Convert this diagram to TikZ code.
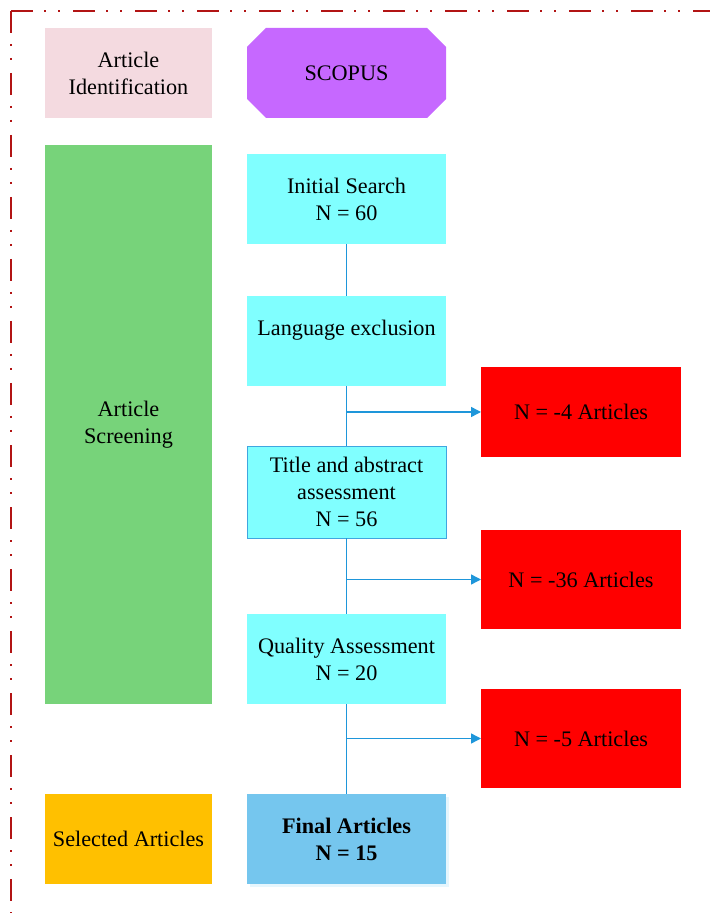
\documentclass[tikz,border=0pt]{standalone}
\usepackage{fontspec}
\setmainfont{Liberation Serif}
\usepackage{tikz}
\usetikzlibrary{arrows.meta, positioning, shadows}
\definecolor{framered}{RGB}{178, 20, 20}
\definecolor{identpink}{RGB}{244, 218, 224}
\definecolor{scopuspurple}{RGB}{198, 104, 255}
\definecolor{screengreen}{RGB}{119, 211, 122}
\definecolor{stepcyan}{RGB}{128, 255, 255}
\definecolor{exclred}{RGB}{255, 0, 0}
\definecolor{finalblue}{RGB}{117, 198, 238}
\definecolor{selectorange}{RGB}{255, 192, 0}
\definecolor{linkblue}{RGB}{30, 150, 218}
\definecolor{shadowblue}{RGB}{230, 246, 253}

\begin{document}
\begin{tikzpicture}[
    x=0.5pt, y=-0.5pt,
    font=\fontsize{11.1}{13.5}\selectfont,
    phasebox/.style={
      rectangle,
      inner sep=2pt,
      outer sep=0pt,
      minimum width=83.5pt,
      minimum height=45pt,
      align=center
    },
    stagebox/.style={
      rectangle,
      fill=stepcyan,
      inner sep=2pt,
      outer sep=0pt,
      minimum width=99.5pt,
      minimum height=45pt,
      align=center
    },
    exclbox/.style={
      rectangle,
      fill=exclred,
      inner sep=2pt,
      outer sep=0pt,
      minimum width=100pt,
      minimum height=49.5pt,
      align=center
    },
    link/.style={
      line width=0.7pt,
      draw=linkblue
    },
    arrow/.style={
      -{Triangle[length=5pt, width=5pt]},
      line width=0.7pt,
      draw=linkblue,
      fill=linkblue
    }
  ]

    \useasboundingbox (0,0) rectangle (709,913);

    % Frame
    \draw[framered, line width=1.25pt,
      dash pattern=on 11pt off 5.5pt on 1pt off 6pt on 1pt off 6.5pt]
      (11,11) -- (740,11);
    \draw[framered, line width=1.25pt,
      dash pattern=on 11pt off 5.5pt on 1pt off 6pt on 1pt off 6.5pt]
      (11,11) -- (11,940);

    % Left column
    \node[phasebox, fill=identpink] (ident) at (128.5,73) {Article\\Identification};
    \node[phasebox, fill=screengreen, minimum height=279.5pt] (screen) at (128.5,424.5) {Article\\Screening};
    \node[phasebox, fill=selectorange] (select) at (128.5,839) {Selected Articles};

    % Middle column
    \node[stagebox, fill=none,
      path picture={
        \fill[scopuspurple]
          ([xshift=9.5pt]path picture bounding box.north west) --
          ([xshift=-9.5pt]path picture bounding box.north east) --
          ([yshift=-9.5pt]path picture bounding box.north east) --
          ([yshift=9.5pt]path picture bounding box.south east) --
          ([xshift=-9.5pt]path picture bounding box.south east) --
          ([xshift=9.5pt]path picture bounding box.south west) --
          ([yshift=9.5pt]path picture bounding box.south west) --
          ([yshift=-9.5pt]path picture bounding box.north west) -- cycle;
      }, right=17.5pt of ident] (scopus) {SCOPUS};

    \node[stagebox, below=18pt of scopus] (init) {Initial Search\\N = 60};
    \node[stagebox, below=26pt of init] (lang) {Language exclusion\\\mbox{}};
    \node[stagebox, draw=linkblue!85, line width=0.5pt, minimum height=46pt, below=30pt of lang] (title)
      {Title and abstract\\assessment\\N = 56};
    \node[stagebox, below=38pt of title] (qual) {Quality Assessment\\N = 20};
    \node[stagebox, fill=finalblue, font=\fontsize{11.1}{13.5}\selectfont\bfseries,
      general shadow={fill=shadowblue, shadow xshift=1.5pt, shadow yshift=-1.5pt},
      below=45pt of qual] (final) {Final Articles\\N = 15};

    % Right column
    \node[exclbox, minimum height=45pt] (excl1) at (581,412) {N = -4 Articles};
    \node[exclbox] (excl2) at (581,579.5) {N = -36 Articles};
    \node[exclbox] (excl3) at (581,738.5) {N = -5 Articles};

    % Connections
    \draw[link] (init) -- (lang);
    \draw[link] (lang) -- (title);
    \draw[link] (title) -- (qual);
    \draw[link] (qual) -- (final);

    \draw[arrow] (excl1.west -| lang.south) -- (excl1.west);
    \draw[arrow] (excl2.west -| title.south) -- (excl2.west);
    \draw[arrow] (excl3.west -| qual.south) -- (excl3.west);

  \end{tikzpicture}
\end{document}
